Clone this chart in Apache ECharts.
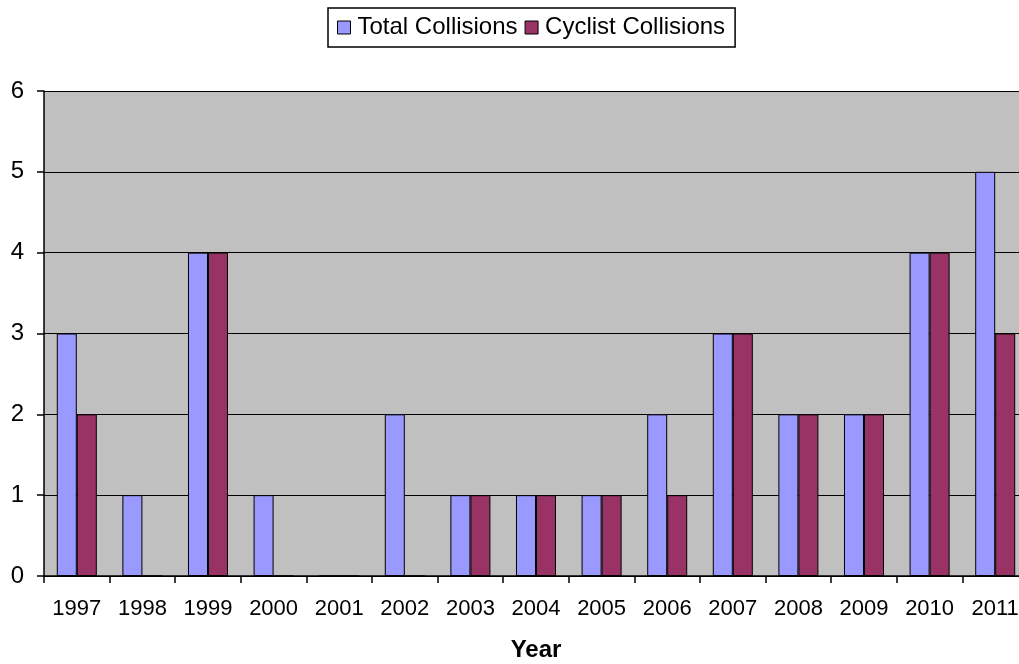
<!DOCTYPE html>
<html>
<head>
<meta charset="utf-8">
<script src="https://cdn.jsdelivr.net/npm/echarts@6/dist/echarts.min.js"></script>
<style>html,body{margin:0;padding:0;background:#fff}#c{width:1019px;height:664px}</style>
</head>
<body>
<div id="c"></div>
<script>
const years = ['1997','1998','1999','2000','2001','2002','2003','2004','2005','2006','2007','2008','2009','2010','2011'];
const totalCollisions = [3,1,4,1,0,2,1,1,1,2,3,2,2,4,5];
const cyclistCollisions = [2,0,4,0,0,0,1,1,1,1,3,2,2,4,3];
const yTicks = [0,1,2,3,4,5,6];

const chart = echarts.init(document.getElementById('c'));
const font = 'Liberation Sans, Arial, sans-serif';
chart.setOption({
  animation: false,
  backgroundColor: '#fff',
  textStyle: { fontFamily: font },
  legend: {
    top: 8, left: 328,
    data: ['Total Collisions','Cyclist Collisions'],
    icon: 'rect', itemWidth: 13, itemHeight: 13, itemGap: 7,
    backgroundColor: '#fff', borderColor: '#000', borderWidth: 1.5,
    padding: [7, 10, 7, 9],
    textStyle: { fontSize: 24, lineHeight: 25, color: '#000', fontFamily: font, padding: [0,0,0,2] },
    itemStyle: { borderColor: '#000', borderWidth: 1 }
  },
  grid: { left: 44, top: 91, width: 984, height: 485, backgroundColor: '#c0c0c0', show: true, borderWidth: 0, outerBoundsMode: 'none', containLabel: false },
  xAxis: {
    type: 'category', data: years,
    name: 'Year', nameLocation: 'middle', nameGap: 62, nameMoveOverlap: false,
    nameTextStyle: { fontSize: 24, fontWeight: 'bold', color: '#000' },
    axisLine: { lineStyle: { color: '#000', width: 1.5 } },
    axisTick: { show: true, length: 7, lineStyle: { color: '#000', width: 1.5 } },
    axisLabel: { fontSize: 22, color: '#000', margin: 22 }
  },
  yAxis: {
    type: 'value', min: 0, max: 6, interval: 1,
    axisLine: { show: true, lineStyle: { color: '#000', width: 1.5 } },
    axisTick: { show: true, length: 7, lineStyle: { color: '#000', width: 1.5 } },
    axisLabel: { fontSize: 24, color: '#000', margin: 20, formatter: v => yTicks.includes(v) ? String(v) : '' },
    splitLine: { show: true, lineStyle: { color: '#000', width: 1.2 } }
  },
  series: [
    { name: 'Total Collisions', type: 'bar', data: totalCollisions, barGap: '0%', barCategoryGap: '39%',
      itemStyle: { color: '#9999ff', borderColor: '#000', borderWidth: 1 } },
    { name: 'Cyclist Collisions', type: 'bar', data: cyclistCollisions, barGap: '0%', barCategoryGap: '39%',
      itemStyle: { color: '#993366', borderColor: '#000', borderWidth: 1 } }
  ]
});
</script>
</body>
</html>
